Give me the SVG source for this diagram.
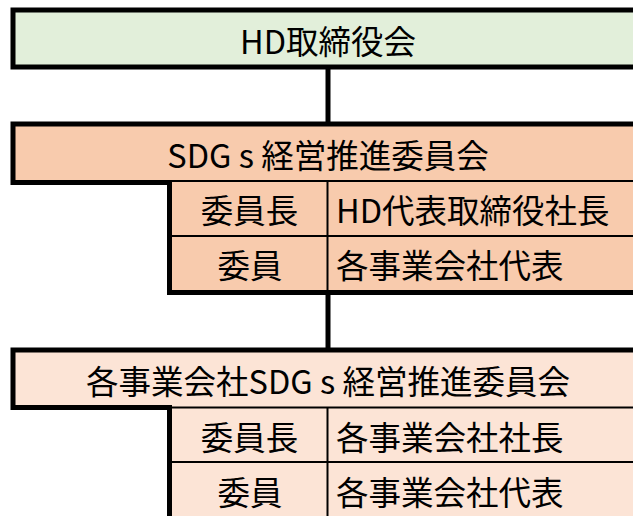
<svg xmlns="http://www.w3.org/2000/svg" width="633" height="516" viewBox="0 0 633 516">
<style>
  .t { font-family: "Noto Sans CJK JP", "Noto Sans", sans-serif; font-size: 32.5px; fill: #000; dominant-baseline: central; }
  .c { text-anchor: middle; }
  .thick { stroke: #000; stroke-width: 5; fill: none; }
  .thin { stroke: #000; stroke-width: 2; fill: none; }
</style>
<rect width="633" height="516" fill="#fff"/>
<g id="connectors">
  <line class="thick" x1="328" y1="68" x2="328" y2="124" stroke-width="6"/>
  <line class="thick" x1="328" y1="292" x2="328" y2="350" stroke-width="6"/>
</g>
<g id="hd-board">
  <rect x="13" y="10" width="650" height="57" fill="#E2EFDA" stroke="#000" stroke-width="5"/>
  <text class="t c" x="328" y="39">HD取締役会</text>
</g>
<g id="sdgs-committee">
  <rect x="13" y="124" width="650" height="58" fill="#F8CBAD"/>
  <rect x="170" y="181" width="470" height="112" fill="#F8CBAD"/>
  <path class="thick" d="M 640 124 H 13 V 182.5 H 172"/>
  <line class="thin" x1="170" y1="181" x2="633" y2="181"/>
  <line class="thin" x1="170" y1="236" x2="633" y2="236"/>
  <line class="thin" x1="327.5" y1="181" x2="327.5" y2="292"/>
  <path class="thick" d="M 169.5 180 V 292.5 H 640"/>
  <text class="t c" x="328" y="153">SDG s 経営推進委員会</text>
  <text class="t c" x="249.5" y="208">委員長</text>
  <text class="t" x="336" y="208">HD代表取締役社長</text>
  <text class="t c" x="250" y="263">委員</text>
  <text class="t" x="336" y="263">各事業会社代表</text>
</g>
<g id="company-committee">
  <rect x="13" y="350" width="650" height="58" fill="#FCE4D6"/>
  <rect x="170" y="407" width="470" height="115" fill="#FCE4D6"/>
  <path class="thick" d="M 640 350 H 13 V 407.5 H 172"/>
  <line class="thin" x1="170" y1="407.5" x2="633" y2="407.5"/>
  <line class="thin" x1="170" y1="462" x2="633" y2="462"/>
  <line class="thin" x1="327.5" y1="407" x2="327.5" y2="520"/>
  <path class="thick" d="M 169.5 405 V 520"/>
  <text class="t c" x="328" y="379">各事業会社SDG s 経営推進委員会</text>
  <text class="t c" x="249.5" y="435">委員長</text>
  <text class="t" x="336" y="435">各事業会社社長</text>
  <text class="t c" x="250" y="490">委員</text>
  <text class="t" x="336" y="490">各事業会社代表</text>
</g>
</svg>
